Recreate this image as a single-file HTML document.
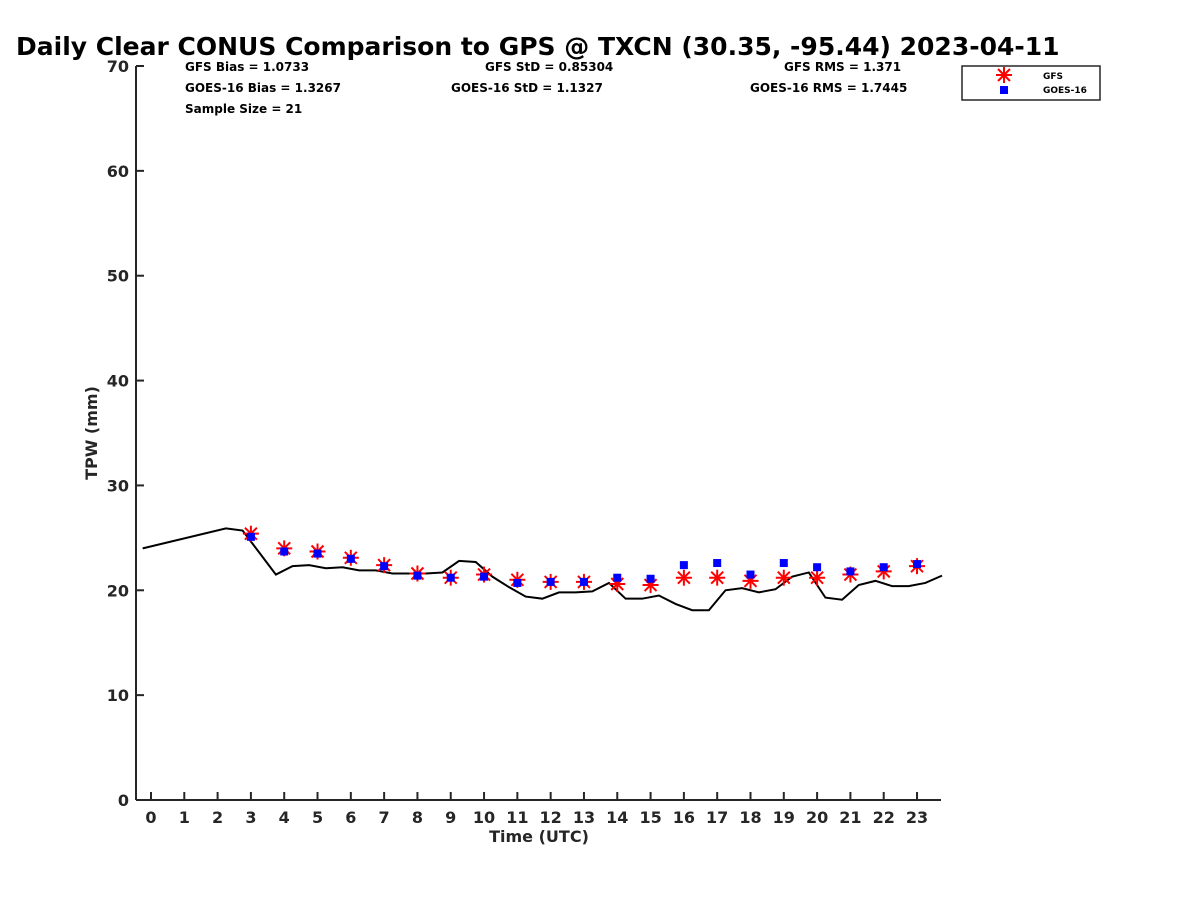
<!DOCTYPE html>
<html><head><meta charset="utf-8"><style>body{margin:0;background:#fff}svg{display:block}text{font-family:"DejaVu Sans","Liberation Sans",sans-serif;font-weight:bold;fill:#262626}</style></head>
<body>
<svg id="chart" width="1200" height="900" xmlns="http://www.w3.org/2000/svg">
<text x="16" y="55" style="font-size:25px;fill:#000">Daily Clear CONUS Comparison to GPS @ TXCN (30.35, -95.44) 2023-04-11</text>
<g id="axes"></g>
<g id="marks"></g>
<g style="font-size:12px">
<text x="185" y="71" style="fill:#000">GFS Bias = 1.0733</text>
<text x="185" y="92" style="fill:#000">GOES-16 Bias = 1.3267</text>
<text x="185" y="113" style="fill:#000">Sample Size = 21</text>
<text x="485" y="71" style="fill:#000">GFS StD = 0.85304</text>
<text x="451" y="92" style="fill:#000">GOES-16 StD = 1.1327</text>
<text x="784" y="71" style="fill:#000">GFS RMS = 1.371</text>
<text x="750" y="92" style="fill:#000">GOES-16 RMS = 1.7445</text>
</g>
<g>
<rect x="962" y="66" width="138" height="34" fill="#fff" stroke="#262626" stroke-width="1.5"/>
<g stroke="#f00" stroke-width="2"><line x1="996" y1="75" x2="1012" y2="75"/><line x1="1004" y1="67" x2="1004" y2="83"/><line x1="998" y1="69" x2="1010" y2="81"/><line x1="998" y1="81" x2="1010" y2="69"/></g>
<rect x="1000" y="86" width="8" height="8" fill="#00f"/>
<text x="1043" y="79" style="font-size:9px;fill:#000">GFS</text>
<text x="1043" y="93" style="font-size:9px;fill:#000">GOES-16</text>
</g>
</svg>
<script>
const hours=[3,4,5,6,7,8,9,10,11,12,13,14,15,16,17,18,19,20,21,22,23];
const gfsValues=[25.4,24.0,23.7,23.1,22.4,21.6,21.2,21.5,21.0,20.8,20.8,20.6,20.5,21.2,21.2,20.9,21.2,21.2,21.5,21.8,22.3];
const goesValues=[25.1,23.7,23.5,23.0,22.3,21.4,21.2,21.3,20.7,20.8,20.8,21.2,21.1,22.4,22.6,21.5,22.6,22.2,21.8,22.2,22.5];
const gpsTimes=[-0.25,2.25,2.75,3.25,3.75,4.25,4.75,5.25,5.75,6.25,6.75,7.25,7.75,8.25,8.75,9.25,9.75,10.25,10.75,11.25,11.75,12.25,12.75,13.25,13.75,14.25,14.75,15.25,15.75,16.25,16.75,17.25,17.75,18.25,18.75,19.25,19.75,20.25,20.75,21.25,21.75,22.25,22.75,23.25,23.75];
const gpsValues=[24.0,25.9,25.7,23.6,21.5,22.3,22.4,22.1,22.2,21.9,21.9,21.6,21.6,21.6,21.7,22.8,22.7,21.3,20.3,19.4,19.2,19.8,19.8,19.9,20.7,19.2,19.2,19.5,18.7,18.1,18.1,20.0,20.2,19.8,20.1,21.3,21.7,19.3,19.1,20.5,20.9,20.4,20.4,20.7,21.4];
const xTicks=[0,1,2,3,4,5,6,7,8,9,10,11,12,13,14,15,16,17,18,19,20,21,22,23];
const yTicks=[0,10,20,30,40,50,60,70];
const NS="http://www.w3.org/2000/svg";
const X0=136,X1=941,Y0=800,Y1=66,XMIN=-0.45,XMAX=23.72,YMIN=0,YMAX=70;
const sx=v=>X0+(v-XMIN)/(XMAX-XMIN)*(X1-X0);
const sy=v=>Y0-(v-YMIN)/(YMAX-YMIN)*(Y0-Y1);
function mk(tag,attrs,parent){const e=document.createElementNS(NS,tag);for(const k in attrs)e.setAttribute(k,attrs[k]);parent.appendChild(e);return e;}
const axes=document.getElementById('axes'),marks=document.getElementById('marks');
const yl=mk('line',{x1:X0,y1:Y1,x2:X0,y2:Y0,stroke:'#262626','stroke-width':2},axes);


const xl=mk('line',{x1:X0,y1:Y0,x2:X1,y2:Y0,stroke:'#262626','stroke-width':2},axes);


yTicks.forEach(v=>{const y=sy(v);
 mk('line',{x1:X0,y1:y,x2:X0+8,y2:y,stroke:'#262626','stroke-width':2},axes);
 const t=mk('text',{x:X0-7,y:y+6,'text-anchor':'end',style:'font-size:16px'},axes);t.textContent=v;
 
 });
xTicks.forEach(v=>{const x=sx(v);
 mk('line',{x1:x,y1:Y0,x2:x,y2:Y0-8,stroke:'#262626','stroke-width':2},axes);
 const t=mk('text',{x:x,y:Y0+23,'text-anchor':'middle',style:'font-size:16px'},axes);t.textContent=v;
 
 });
const xt=mk('text',{x:539,y:842,'text-anchor':'middle',style:'font-size:16px'},axes);xt.textContent='Time (UTC)';


const yt=mk('text',{x:97,y:433,'text-anchor':'middle',transform:'rotate(-90 97 433)',style:'font-size:16px'},axes);yt.textContent='TPW (mm)';


const pl=mk('polyline',{points:gpsTimes.map((t,i)=>sx(t)+','+sy(gpsValues[i])).join(' '),fill:'none',stroke:'#000','stroke-width':2},marks);


hours.forEach((h,i)=>{const x=sx(h),y=sy(gfsValues[i]);
 const g=mk('g',{stroke:'#f00','stroke-width':2},marks);
 
 
 mk('line',{x1:x-8,y1:y,x2:x+8,y2:y},g);mk('line',{x1:x,y1:y-8,x2:x,y2:y+8},g);
 mk('line',{x1:x-6,y1:y-6,x2:x+6,y2:y+6},g);mk('line',{x1:x-6,y1:y+6,x2:x+6,y2:y-6},g);});
hours.forEach((h,i)=>{const x=sx(h),y=sy(goesValues[i]);
 const r=mk('rect',{x:x-4,y:y-4,width:8,height:8,fill:'#00f'},marks);
 
 });
</script>
</body></html>
